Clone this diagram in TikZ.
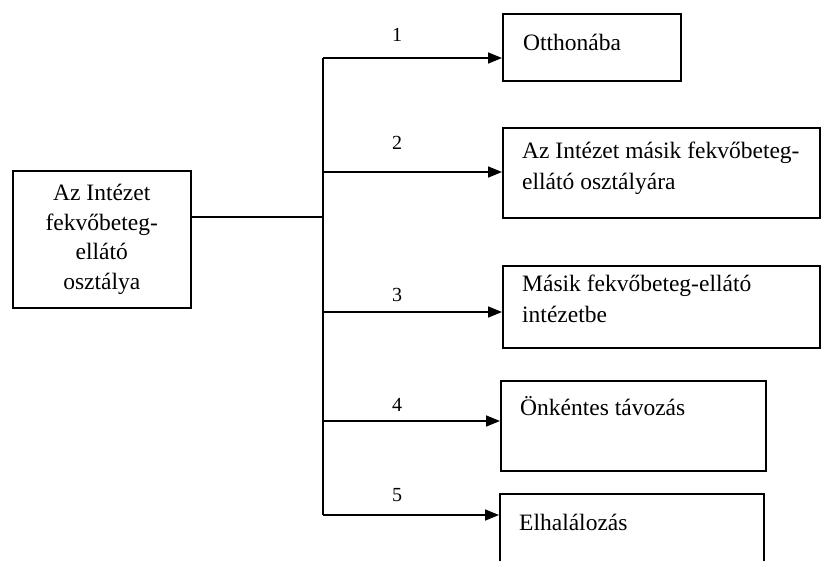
\documentclass[tikz,border=0pt]{standalone}
\usepackage{fontspec}
\setmainfont{Liberation Serif}
\usetikzlibrary{arrows.meta,calc}
\begin{document}
\begin{tikzpicture}[x=1pt,y=-1pt,
  box/.style={draw,line width=1.5pt,rectangle,inner sep=0pt,anchor=north west},
  txt/.style={font=\fontsize{23.5}{31}\selectfont,inner sep=0pt,anchor=west,align=left},
  num/.style={font=\fontsize{20}{24}\selectfont,inner sep=0pt},
  conn/.style={line width=1.7pt},
  arr/.style={line width=1.7pt,-{Triangle[length=14pt,width=11pt]}}]
\clip (0,0) rectangle (822,560);
\fill[white] (0,0) rectangle (822,560);
% left box
\node[box,minimum width=178pt,minimum height=137pt,align=center,
      font=\fontsize{23.5}{29.5}\selectfont] (L) at (12,170)
      {Az Intézet\\fekvőbeteg-\\ellátó\\osztálya};
% right boxes
\node[box,minimum width=178pt,minimum height=67pt] (b1) at (502,13) {};
\node[box,minimum width=317pt,minimum height=90pt] (b2) at (502,127) {};
\node[box,minimum width=317pt,minimum height=82pt] (b3) at (502,265) {};
\node[box,minimum width=265pt,minimum height=90pt] (b4) at (500,380) {};
\node[box,minimum width=264pt,minimum height=80pt] (b5) at (499,493) {};
% texts
\node[txt] (t1) at (523,42) {Otthonába};
\node[txt] (t2) at (522,168) {Az Intézet másik fekvőbeteg-\\ellátó osztályára};
\node[txt] (t3) at (522,299) {Másik fekvőbeteg-ellátó\\intézetbe};
\node[txt] (t4) at (520,406) {Önkéntes távozás};
\node[txt] (t5) at (519,522) {Elhalálozás};
% junctions
\coordinate (j0) at (323,217);
\coordinate (j1) at (323,58);
\coordinate (j2) at (323,172);
\coordinate (j3) at (323,312);
\coordinate (j4) at (323,421);
\coordinate (j5) at (323,515);
\draw[conn] (L.east |- j0) -- (j0);
\draw[conn] (j1) -- (j5);
\draw[arr] (j1) -- (j1 -| b1.west);
\draw[arr] (j2) -- (j2 -| b2.west);
\draw[arr] (j3) -- (j3 -| b3.west);
\draw[arr] (j4) -- (j4 -| b4.west);
\draw[arr] (j5) -- (j5 -| b5.west);
% labels
\node[num] (n1) at (397,35) {1};
\node[num] (n2) at (397,143) {2};
\node[num] (n3) at (397,295) {3};
\node[num] (n4) at (397,405) {4};
\node[num] (n5) at (397,495) {5};
\end{tikzpicture}
\end{document}
